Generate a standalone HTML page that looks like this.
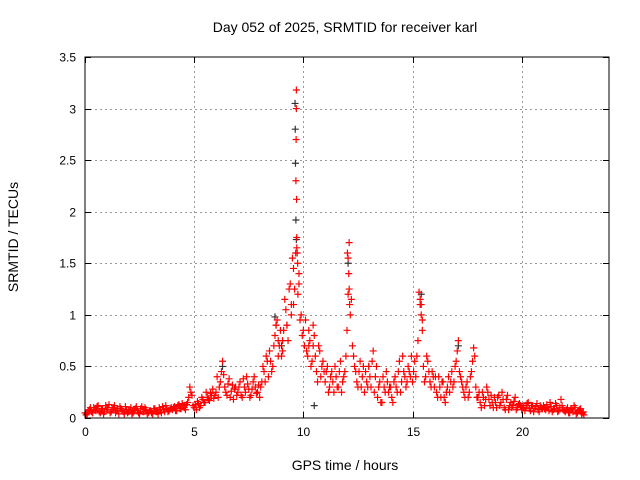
<!DOCTYPE html>
<html><head><meta charset="utf-8"><style>
body{margin:0;background:#fff;}
svg{display:block;font-family:"Liberation Sans",sans-serif;}
</style></head><body>
<svg id="chart" width="640" height="480" viewBox="0 0 640 480">
<rect width="640" height="480" fill="#fff"/>
<text x="345" y="32" font-size="14" text-anchor="middle">Day 052 of 2025, SRMTID for receiver karl</text>
<g id="grid"></g>
<g id="marks"></g>
<rect x="85" y="57" width="524" height="361" fill="none" stroke="#000" stroke-width="1"/>
<g id="ticks"></g>
<text x="345" y="470" font-size="14" text-anchor="middle">GPS time / hours</text>
<text transform="translate(18,237) rotate(-90)" font-size="14" text-anchor="middle">SRMTID / TECUs</text>
</svg>
<script>
const xTicks=[0,5,10,15,20];
const yTicks=[0,0.5,1,1.5,2,2.5,3,3.5];
const yTickLabels=["0","0.5","1","1.5","2","2.5","3","3.5"];
const redTimes=[0.0,0.1,0.2,0.3,0.4,0.5,0.6,0.7,0.8,0.9,1.0,1.1,1.2,1.3,1.4,1.5,1.6,1.7,1.8,1.9,2.0,2.1,2.2,2.3,2.4,2.5,2.6,2.7,2.8,2.9,3.0,3.1,3.2,3.3,3.4,3.5,3.6,3.7,3.8,3.9,4.0,4.1,4.2,4.3,4.4,4.5,4.6,4.7,4.8,4.9,5.0,5.1,5.2,5.3,5.4,5.5,5.6,5.7,5.8,5.9,6.0,6.1,6.2,6.3,6.4,6.5,6.6,6.7,6.8,6.9,7.0,7.1,7.2,7.3,7.4,7.5,7.6,7.7,7.8,7.9,8.0,8.1,8.2,8.3,8.4,8.5,8.6,8.7,8.8,8.9,9.0,9.1,9.2,9.3,9.4,9.5,9.68,9.7,9.8,9.9,10.0,10.1,10.2,10.3,10.4,10.5,10.6,10.7,10.8,10.9,11.0,11.1,11.2,11.3,11.4,11.5,11.6,11.7,11.8,11.9,12.0,12.1,12.2,12.3,12.4,12.5,12.6,12.7,12.8,12.9,13.0,13.1,13.2,13.3,13.4,13.5,13.6,13.7,13.8,13.9,14.0,14.1,14.2,14.3,14.4,14.5,14.6,14.7,14.8,14.9,15.0,15.1,15.2,15.3,15.4,15.5,15.6,15.7,15.8,15.9,16.0,16.1,16.2,16.3,16.4,16.5,16.6,16.7,16.8,16.9,17.0,17.1,17.2,17.3,17.4,17.5,17.6,17.7,17.8,17.9,18.0,18.1,18.2,18.3,18.4,18.5,18.6,18.7,18.8,18.9,19.0,19.1,19.2,19.3,19.4,19.5,19.6,19.7,19.8,19.9,20.0,20.1,20.2,20.3,20.4,20.5,20.6,20.7,20.8,20.9,21.0,21.1,21.2,21.3,21.4,21.5,21.6,21.7,21.8,21.9,22.0,22.1,22.2,22.3,22.4,22.5,22.6,22.7,22.8,22.85,
9.66,9.67,9.68,9.69,9.7,9.72,9.74,9.6,9.55,9.8,12.05,12.08,12.1,12.12,15.35,15.4,15.45,8.75,8.85,9.05,9.25,9.45,10.25,10.45,12.02];
const redValues=[.05,.04,.08,.06,.10,.07,.12,.05,.09,.06,.08,.13,.06,.10,.05,.09,.11,.07,.04,.08,.06,.10,.05,.09,.07,.04,.11,.06,.08,.05,.07,.04,.09,.06,.10,.05,.08,.12,.06,.09,.08,.11,.07,.13,.09,.12,.08,.15,.30,.22,.10,.08,.14,.12,.18,.15,.20,.17,.22,.19,.25,.20,.35,.55,.30,.22,.38,.26,.18,.30,.25,.35,.20,.30,.40,.28,.22,.35,.30,.25,.20,.35,.45,.60,.40,.55,.50,.80,.95,.70,.60,.85,1.05,.75,1.30,1.55,3.18,1.65,1.40,1.00,.85,.95,.60,.75,.55,.80,.45,.70,.40,.55,.35,.50,.30,.45,.25,.40,.30,.55,.35,.45,.85,1.70,1.15,.60,.45,.30,.55,.40,.25,.35,.50,.30,.65,.40,.20,.35,.15,.30,.45,.25,.30,.15,.40,.25,.55,.35,.45,.30,.50,.40,.35,.55,.60,1.22,1.00,.50,.40,.55,.35,.45,.30,.25,.40,.20,.35,.15,.30,.25,.45,.35,.55,.75,.40,.30,.20,.35,.25,.45,.68,.30,.20,.15,.25,.12,.30,.18,.22,.10,.15,.20,.12,.25,.10,.18,.08,.15,.12,.20,.10,.14,.08,.12,.10,.15,.07,.12,.09,.14,.06,.10,.12,.08,.10,.15,.06,.09,.12,.07,.18,.08,.06,.10,.05,.08,.12,.04,.07,.09,.05,.03,
2.30,2.70,3.00,2.12,1.75,1.60,1.50,1.25,1.10,1.30,1.55,1.40,1.25,1.10,1.15,1.10,0.95,0.90,0.75,0.65,0.90,1.10,0.70,0.90,1.60];
const redTimes2=[0.05,0.15,0.25,0.35,0.45,0.55,0.65,0.75,0.85,0.95,1.05,1.15,1.25,1.35,1.45,1.55,1.65,1.75,1.85,1.95,2.05,2.15,2.25,2.35,2.45,2.55,2.65,2.75,2.85,2.95,3.05,3.15,3.25,3.35,3.45,3.55,3.65,3.75,3.85,3.95,4.05,4.15,4.25,4.35,4.45,4.55,4.65,4.75,4.85,4.95,5.05,5.15,5.25,5.35,5.45,5.55,5.65,5.75,5.85,5.95,6.05,6.15,6.25,6.35,6.45,6.55,6.65,6.75,6.85,6.95,7.05,7.15,7.25,7.35,7.45,7.55,7.65,7.75,7.85,7.95,8.05,8.15,8.25,8.35,8.45,8.55,8.65,8.75,8.85,8.95,9.05,9.15,9.25,9.35,9.45,9.55,9.65,9.75,9.85,9.95,10.05,10.15,10.25,10.35,10.45,10.55,10.65,10.75,10.85,10.95,11.05,11.15,11.25,11.35,11.45,11.55,11.65,11.75,11.85,11.95,12.05,12.15,12.25,12.35,12.45,12.55,12.65,12.75,12.85,12.95,13.05,13.15,13.25,13.35,13.45,13.55,13.65,13.75,13.85,13.95,14.05,14.15,14.25,14.35,14.45,14.55,14.65,14.75,14.85,14.95,15.05,15.15,15.25,15.35,15.45,15.55,15.65,15.75,15.85,15.95,16.05,16.15,16.25,16.35,16.45,16.55,16.65,16.75,16.85,16.95,17.05,17.15,17.25,17.35,17.45,17.55,17.65,17.75,17.85,17.95,18.05,18.15,18.25,18.35,18.45,18.55,18.65,18.75,18.85,18.95,19.05,19.15,19.25,19.35,19.45,19.55,19.65,19.75,19.85,19.95,20.05,20.15,20.25,20.35,20.45,20.55,20.65,20.75,20.85,20.95,21.05,21.15,21.25,21.35,21.45,21.55,21.65,21.75,21.85,21.95,22.05,22.15,22.25,22.35,22.45,22.55,22.65,22.75,22.82];
const redValues2=[.03,.07,.10,.05,.08,.11,.06,.09,.04,.12,.10,.05,.08,.12,.07,.04,.09,.06,.11,.05,.08,.04,.07,.11,.05,.09,.06,.10,.04,.07,.05,.09,.06,.04,.08,.11,.06,.09,.07,.10,.10,.07,.12,.09,.14,.10,.13,.20,.25,.12,.13,.16,.10,.20,.15,.25,.18,.24,.28,.22,.40,.30,.45,.42,.25,.33,.20,.32,.28,.22,.30,.22,.38,.25,.33,.20,.28,.40,.24,.32,.30,.50,.35,.55,.65,.45,.70,.90,.60,.85,.75,1.15,.90,1.25,1.00,1.45,1.60,1.20,.95,.80,.70,.65,.85,.50,.70,.60,.35,.65,.50,.45,.45,.25,.40,.35,.50,.30,.45,.25,.40,.60,1.20,1.00,.70,.50,.35,.45,.30,.50,.45,.30,.40,.55,.25,.50,.30,.15,.40,.25,.35,.30,.20,.35,.30,.45,.25,.60,.40,.35,.45,.60,.45,.40,.75,1.10,.85,.35,.60,.45,.30,.40,.40,.20,.30,.35,.20,.25,.40,.35,.30,.50,.65,.45,.35,.25,.30,.20,.40,.55,.60,.20,.25,.10,.20,.18,.25,.12,.15,.20,.10,.22,.15,.18,.08,.22,.12,.10,.16,.08,.13,.12,.10,.07,.14,.09,.12,.06,.11,.08,.12,.09,.09,.13,.07,.11,.08,.14,.06,.10,.12,.07,.08,.05,.09,.06,.10,.05,.08,.04,.06];
const blackTimes=[9.62,9.63,9.64,9.66,9.68,10.5,12.05,8.7,15.4,13.0,9.0,6.3,17.1];
const blackValues=[3.05,2.80,2.47,1.92,1.73,0.12,1.50,0.98,1.20,0.50,0.70,0.50,0.70];
const NS="http://www.w3.org/2000/svg";
const X0=85,X1=609,Y0=418,Y1=57;
function xs(t){return X0+t/24*(X1-X0);}
function ys(v){return Y0-v/3.5*(Y0-Y1);}
const grid=document.getElementById('grid'),ticks=document.getElementById('ticks'),marks=document.getElementById('marks');
function line(g,x1,y1,x2,y2,st,dash){const l=document.createElementNS(NS,'line');l.setAttribute('x1',x1);l.setAttribute('y1',y1);l.setAttribute('x2',x2);l.setAttribute('y2',y2);l.setAttribute('stroke',st);if(dash)l.setAttribute('stroke-dasharray',dash);g.appendChild(l);return l;}
xTicks.forEach((t,i)=>{const x=Math.round(xs(t))+0.5;
 if(i>0){const g=line(grid,x,Y0,x,Y1,'#999','2,3');
 
 }
 line(ticks,x,Y0,x,Y0-6,'#000');line(ticks,x,Y1,x,Y1+6,'#000');
 const tx=document.createElementNS(NS,'text');tx.setAttribute('x',x);tx.setAttribute('y',Y0+18);tx.setAttribute('font-size','12');tx.setAttribute('text-anchor','middle');tx.textContent=t;
 
 
 ticks.appendChild(tx);});
yTicks.forEach((v,i)=>{const y=Math.round(ys(v))+0.5;
 if(i>0&&i<yTicks.length-1){const g=line(grid,X0,y,X1,y,'#999','2,3');
 
 }
 line(ticks,X0,y,X0+6,y,'#000');line(ticks,X1,y,X1-6,y,'#000');
 const tx=document.createElementNS(NS,'text');tx.setAttribute('x',X0-9);tx.setAttribute('y',y+4);tx.setAttribute('font-size','12');tx.setAttribute('text-anchor','end');tx.textContent=yTickLabels[i];
 
 
 ticks.appendChild(tx);});
function plus(t,v,col,name){const x=xs(t),y=ys(v);const p=document.createElementNS(NS,'path');
 p.setAttribute('d',`M${x-3.5},${y}H${x+3.5}M${x},${y-3.5}V${y+3.5}`);p.setAttribute('stroke',col);p.setAttribute('stroke-width','1.2');p.setAttribute('fill','none');
 
 
 marks.appendChild(p);}
blackTimes.forEach((t,i)=>plus(t,blackValues[i],'#333','black-point'));
redTimes.forEach((t,i)=>plus(t,redValues[i],'#f00','red-point'));
redTimes2.forEach((t,i)=>plus(t,redValues2[i],'#f00','red-point'));
</script>
</body></html>
